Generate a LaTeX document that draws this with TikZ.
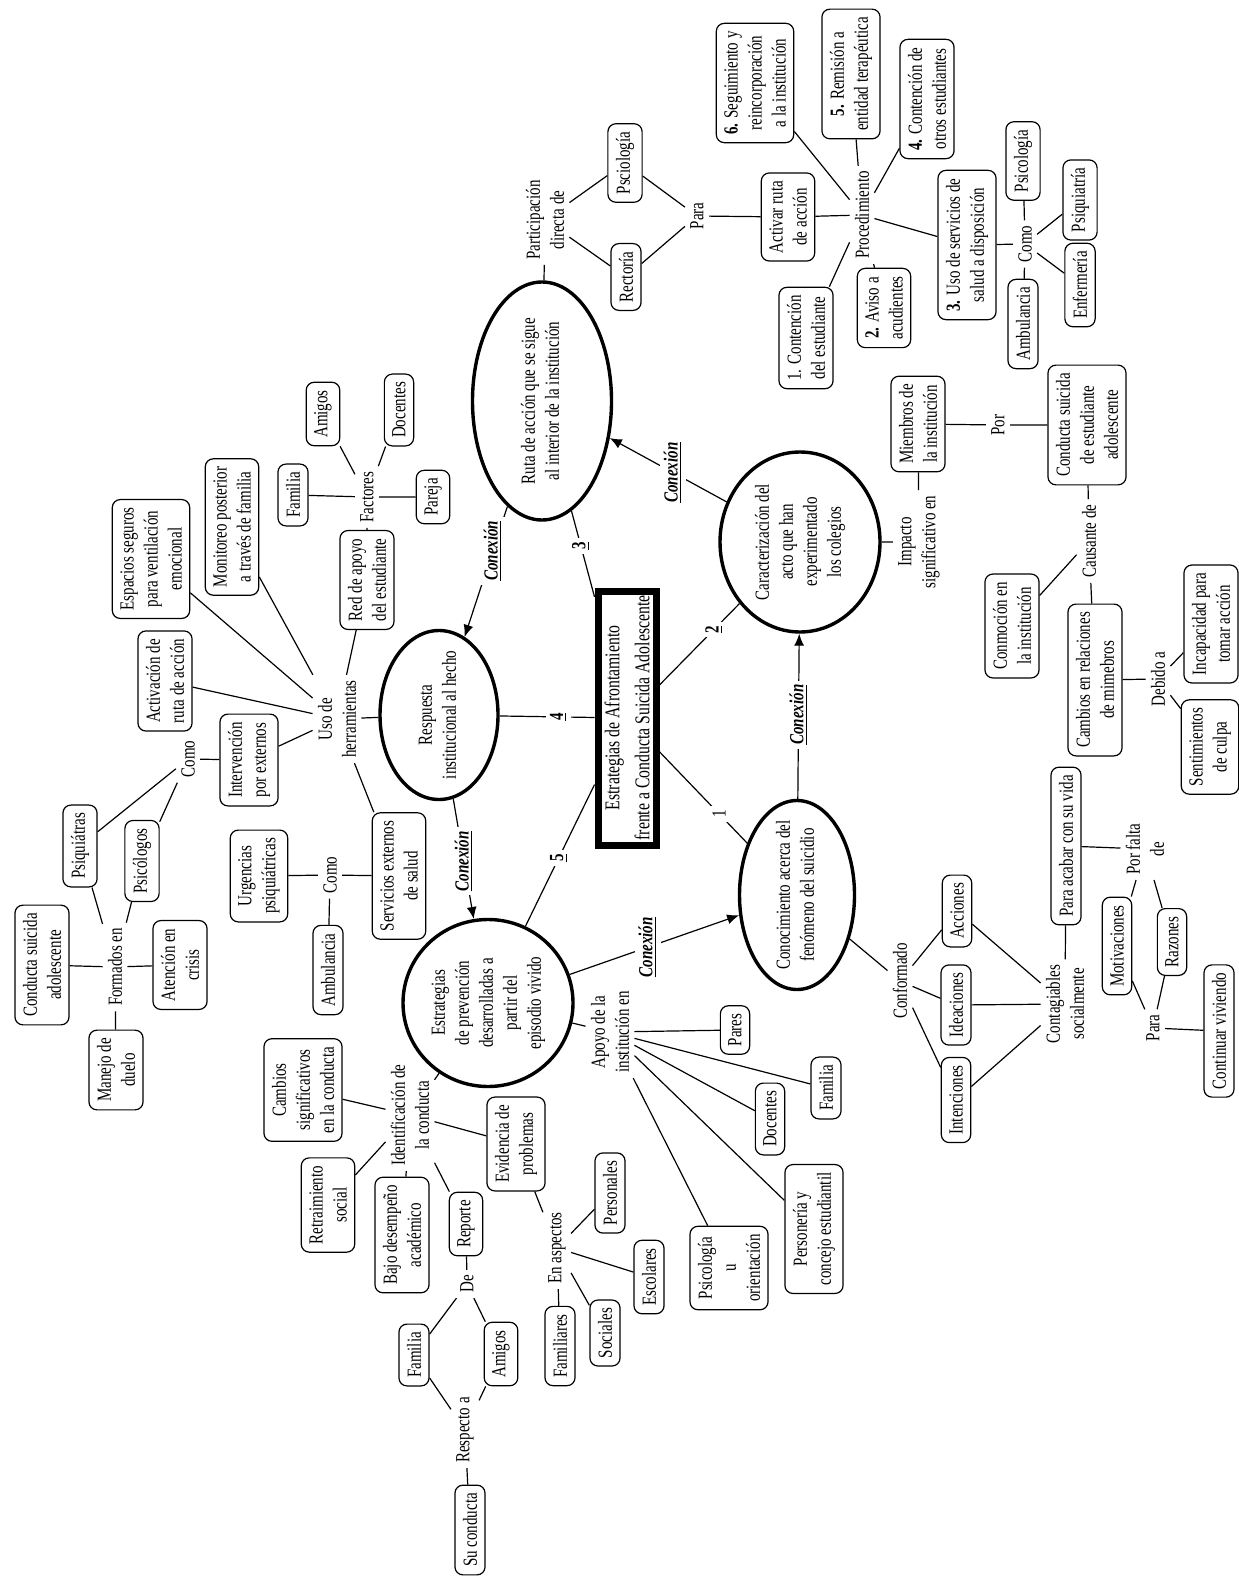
\documentclass[tikz,border=0pt]{standalone}
\usepackage{fontspec}
\setmainfont{Liberation Serif}[FakeStretch=0.75]
\usetikzlibrary{arrows.meta, shapes.geometric}
\tikzset{
  box/.style={draw, rounded corners=4pt, line width=0.6pt, inner sep=4pt, align=center},
  word/.style={inner sep=2.5pt, align=center},
  oval/.style={draw, ellipse, line width=1.7pt, inner sep=0pt},
  core/.style={draw, line width=3.5pt, inner sep=0pt, minimum width=127pt, minimum height=29pt, align=center, font=\fontsize{10.5}{15}\selectfont},
  link/.style={line width=0.6pt},
  conn/.style={line width=0.6pt, -{Latex[length=6pt,width=5pt]}},
  rel/.style={fill=white, inner sep=2pt, font=\bfseries\itshape},
  num/.style={fill=white, inner sep=2pt, font=\bfseries}
}
\newcommand{\ovl}[1]{\makebox[0pt]{\begin{tabular}{@{}c@{}}#1\end{tabular}}}
\newcommand{\conx}{\underline{Conexión}}

\begin{document}
\begin{tikzpicture}[x=0.5pt, y=-0.5pt, every node/.style={rotate=90}, font=\fontsize{10}{12}\selectfont]
  \useasboundingbox (0,0) rectangle (1238,1577);
  % centre and the five themes
  \node[core] (core) at (627,718) {Estrategias de Afrontamiento\\frente a Conducta Suicida Adolescente};
  \node[oval, minimum width=84.5pt, minimum height=59pt] (resp) at (439,715) {\ovl{Respuesta\\institucional al hecho}};
  \node[oval, minimum width=119pt, minimum height=69.5pt] (ruta) at (542,401) {\ovl{Ruta de acción que se sigue\\al interior de la institución}};
  \node[oval, minimum width=90pt, minimum height=80pt] (carac) at (800,542) {\ovl{Caracterización del\\acto que han\\experimentado\\los colegios}};
  \node[oval, minimum width=94.5pt, minimum height=57.5pt] (conoc) at (797,895) {\ovl{Conocimiento acerca del\\fenómeno del suicidio}};
  \node[oval, minimum width=83.5pt, minimum height=85pt] (prev) at (488,1003) {\ovl{Estrategias\\de prevención\\desarrolladas a\\partir del\\episodio vivido}};

  \draw[link] (core) -- node[num, pos=0.68, font=\normalfont] {1} (conoc);
  \draw[link] (core) -- node[num, pos=0.68] {\underline{2}} (carac);
  \draw[link] (core) -- node[num, pos=0.59] {\underline{3}} (ruta);
  \draw[link] (core) -- node[num, pos=0.38] {\underline{4}} (resp);
  \draw[link] (core) -- node[num, pos=0.52] {\underline{5}} (prev);

  \draw[conn] (carac) -- node[rel, pos=0.46] {\conx} (ruta);
  \draw[conn] (ruta) -- node[rel, pos=0.34] {\conx} (resp);
  \draw[conn] (resp) -- node[rel, pos=0.52] {\conx} (prev);
  \draw[conn] (prev) -- node[rel, pos=0.46] {\conx} (conoc);
  \draw[conn] (conoc) -- node[rel, pos=0.51] {\conx} (carac);

  % respuesta institucional
  \node[word] (uso) at (337,719) {Uso de\\herramientas};
  \node[box] (red) at (367,580) {Red de apoyo\\del estudiante};
  \node[word] (factores) at (367,497) {Factores};
  \node[box] (famA) at (293,495) {Familia};
  \node[box] (amigA) at (323,414) {Amigos};
  \node[box] (docA) at (399,410) {Docentes};
  \node[box] (pareja) at (433,497) {Pareja};
  \node[box] (monit) at (232,527) {Monitoreo posterior\\a través de familia};
  \node[box] (espac) at (151,559) {Espacios seguros\\para ventilación\\emocional};
  \node[box] (activ) at (165,681) {Activación de\\ruta de acción};
  \node[box] (interv) at (249,760) {Intervención\\por externos};
  \node[box] (servext) at (399,876) {Servicios externos\\de salud};
  \node[word] (comoA) at (188,759) {Como};
  \node[box] (psiqA) at (80,846) {Psiquiátras};
  \node[box] (psicA) at (142,861) {Psicólogos};
  \node[word] (formados) at (115,967) {Formados en};
  \node[box] (condA) at (42,965) {Conducta suicida\\adolescente};
  \node[box] (atenc) at (180,965) {Atención en\\crisis};
  \node[box] (manejo) at (116,1070) {Manejo de\\duelo};
  \node[word] (comoB) at (330,875) {Como};
  \node[box] (urgen) at (259,876) {Urgencias\\psiquiátricas};
  \node[box] (ambA) at (328,970) {Ambulancia};

  \draw[link] (resp) -- (uso) (uso) -- (red) (red) -- (factores)
    (factores) -- (famA) (factores) -- (amigA) (factores) -- (docA) (factores) -- (pareja)
    (uso) -- (monit) (uso) -- (espac) (uso) -- (activ) (uso) -- (interv) (uso) -- (servext)
    (interv) -- (comoA) (comoA) -- (psiqA) (comoA) -- (psicA)
    (psiqA) -- (formados) (psicA) -- (formados)
    (formados) -- (condA) (formados) -- (atenc) (formados) -- (manejo)
    (servext) -- (comoB) (comoB) -- (urgen) (comoB) -- (ambA);

  % ruta de accion
  \node[word] (partic) at (545,220) {Participación\\directa de};
  \node[box] (psciol) at (625,163) {Psciología};
  \node[box] (rector) at (626,277) {Rectoría};
  \node[word] (paraA) at (697,216) {Para};
  \node[box] (activar) at (788,217) {Activar ruta\\de acción};
  \node[word] (proced) at (862,215) {Procedimiento};
  \node[box] (pasoSeis) at (755,83) {\textbf{6.} Seguimiento y\\reincorporación\\a la institución};
  \node[box] (pasoCinco) at (851,74) {\textbf{5.} Remisión a\\entidad terapéutica};
  \node[box] (pasoCuatro) at (927,99) {\textbf{4.} Contención de\\otros estudiantes};
  \node[box] (pasoTres) at (967,245) {\textbf{3.} Uso de servicios de\\salud a disposición};
  \node[box] (pasoDos) at (884,308) {\textbf{2.} Aviso a\\acudientes};
  \node[box] (pasoUno) at (806,338) {1. Contención\\del estudiante};
  \node[word] (comoC) at (1025,244) {Como};
  \node[box] (psicB) at (1023,161) {Psicología};
  \node[box] (psiqB) at (1080,200) {Psiquiatría};
  \node[box] (enferm) at (1080,285) {Enfermería};
  \node[box] (ambB) at (1023,324) {Ambulancia};

  \draw[link] (ruta) -- (partic) (partic) -- (psciol) (partic) -- (rector)
    (psciol) -- (paraA) (rector) -- (paraA) (paraA) -- (activar) (activar) -- (proced)
    (proced) -- (pasoSeis) (proced) -- (pasoCinco) (proced) -- (pasoCuatro)
    (proced) -- (pasoTres) (proced) -- (pasoDos) (proced) -- (pasoUno)
    (pasoTres) -- (comoC) (comoC) -- (psicB) (comoC) -- (psiqB) (comoC) -- (enferm) (comoC) -- (ambB);

  % caracterizacion
  \node[word] (impacto) at (919,542) {Impacto\\significativo en};
  \node[box] (miembros) at (918,424) {Miembros de\\la institución};
  \node[word] (porA) at (998,425) {Por};
  \node[box] (condB) at (1087,425) {Conducta suicida\\de estudiante\\adolescente};
  \node[word] (causante) at (1089,541) {Causante de};
  \node[box] (conmoc) at (1012,626) {Conmoción en\\la institución};
  \node[box] (cambios) at (1095,680) {Cambios en relaciones\\de mimebros};
  \node[word] (debido) at (1158,679) {Debido a};
  \node[box] (incap) at (1211,624) {Incapacidad para\\tomar acción};
  \node[box] (sentim) at (1210,747) {Sentimientos\\de culpa};

  \draw[link] (carac) -- (impacto) (impacto) -- (miembros) (miembros) -- (porA) (porA) -- (condB)
    (condB) -- (causante) (causante) -- (conmoc) (causante) -- (cambios)
    (cambios) -- (debido) (debido) -- (incap) (debido) -- (sentim);

  % conocimiento
  \node[word] (conform) at (900,981) {Conformado};
  \node[box] (acciones) at (957,911) {Acciones};
  \node[box] (ideac) at (956,1005) {Ideaciones};
  \node[box] (intenc) at (956,1100) {Intenciones};
  \node[word] (contag) at (1065,1004) {Contagiables\\socialmente};
  \node[box] (paraAcabar) at (1066,846) {Para acabar con su vida};
  \node[word] (porFalta) at (1145,849) {Por falta\\de};
  \node[box] (motiv) at (1117,946) {Motivaciones};
  \node[box] (razones) at (1172,942) {Razones};
  \node[word] (paraB) at (1153,1028) {Para};
  \node[box] (continuar) at (1219,1031) {Continuar viviendo};

  \draw[link] (conoc) -- (conform) (conform) -- (acciones) (conform) -- (ideac) (conform) -- (intenc)
    (acciones) -- (contag) (ideac) -- (contag) (intenc) -- (contag)
    (contag) -- (paraAcabar) (paraAcabar) -- (porFalta) (porFalta) -- (motiv) (porFalta) -- (razones)
    (motiv) -- (paraB) (razones) -- (paraB) (paraB) -- (continuar);

  % estrategias de prevencion
  \node[word] (apoyo) at (610,1032) {Apoyo de la\\institución en};
  \node[box] (pares) at (735,1030) {Pares};
  \node[box] (famB) at (826,1088) {Familia};
  \node[box] (docB) at (770,1119) {Docentes};
  \node[box] (person) at (814,1229) {Personería y\\concejo estudiantil};
  \node[box] (psicOr) at (729,1268) {Psicología\\u\\orientación};
  \node[word] (ident) at (410,1115) {Identificación de\\la conducta};
  \node[box] (cambSig) at (303,1090) {Cambios\\significativos\\en la conducta};
  \node[box] (retra) at (328,1205) {Retraimiento\\social};
  \node[box] (bajo) at (402,1235) {Bajo desempeño\\académico};
  \node[box] (evid) at (516,1144) {Evidencia de\\problemas};
  \node[box] (reporte) at (466,1224) {Reporte};
  \node[word] (deA) at (467,1284) {De};
  \node[box] (famC) at (414,1355) {Familia};
  \node[box] (amigC) at (501,1354) {Amigos};
  \node[word] (respecto) at (465,1430) {Respecto a};
  \node[box] (suCond) at (470,1530) {Su conducta};
  \node[word] (enAsp) at (557,1248) {En aspectos};
  \node[box] (personales) at (610,1193) {Personales};
  \node[box] (escolares) at (649,1277) {Escolares};
  \node[box] (sociales) at (605,1333) {Sociales};
  \node[box] (familiares) at (560,1346) {Familiares};

  \draw[link] (prev) -- (apoyo) (apoyo) -- (pares) (apoyo) -- (famB) (apoyo) -- (docB)
    (apoyo) -- (person) (apoyo) -- (psicOr)
    (prev) -- (ident) (ident) -- (cambSig) (ident) -- (retra) (ident) -- (bajo)
    (ident) -- (evid) (ident) -- (reporte) (reporte) -- (deA) (deA) -- (famC) (deA) -- (amigC)
    (famC) -- (respecto) (amigC) -- (respecto) (respecto) -- (suCond)
    (evid) -- (enAsp) (enAsp) -- (personales) (enAsp) -- (escolares) (enAsp) -- (sociales) (enAsp) -- (familiares);
\end{tikzpicture}
\end{document}
